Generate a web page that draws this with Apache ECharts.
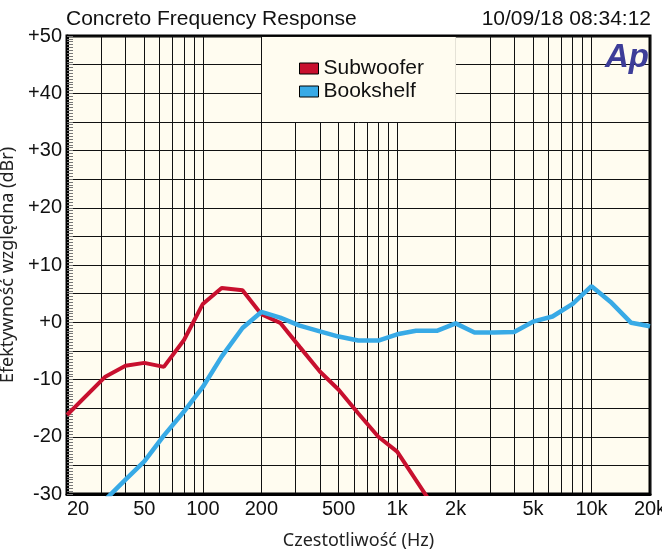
<!DOCTYPE html>
<html>
<head>
<meta charset="utf-8">
<script src="https://cdn.jsdelivr.net/npm/echarts@6/dist/echarts.min.js"></script>
<style>html,body{margin:0;padding:0;background:#fff}#c{width:662px;height:549px}</style>
</head>
<body>
<div id="c"></div>
<script>
// ---- data ----
const subFreq = [20, 31.5, 40, 50, 63, 80, 100, 125, 160, 200, 250, 315, 400, 500, 630, 800, 1000, 1600];
const subVal  = [-16.2, -9.5, -7.6, -7.1, -7.8, -3.1, 3.2, 6.0, 5.6, 1.4, -0.1, -4.3, -8.6, -11.8, -15.9, -20.0, -22.6, -33.1];

const bookFreq = [31.5, 40, 50, 63, 80, 100, 125, 160, 200, 250, 315, 400, 500, 630, 800, 1000, 1250, 1600, 2000, 2500, 3150, 4000, 5000, 6300, 8000, 10000, 12500, 16000, 20000];
const bookVal  = [-31.0, -27.5, -24.3, -19.8, -15.6, -11.3, -6.0, -1.0, 1.8, 0.8, -0.6, -1.6, -2.5, -3.2, -3.2, -2.1, -1.5, -1.5, -0.2, -1.8, -1.8, -1.7, 0.1, 1.0, 3.2, 6.3, 3.6, -0.1, -0.7];

const seriesNames = ['Subwoofer', 'Bookshelf'];
const xLabelValues = [20, 50, 100, 200, 500, 1000, 2000, 5000, 10000, 20000];
const xGridValues = [20, 30, 40, 50, 60, 70, 80, 90, 100, 200, 300, 400, 500, 600, 700, 800, 900,
                     1000, 2000, 3000, 4000, 5000, 6000, 7000, 8000, 9000, 10000, 20000];
const yMin = -30, yMax = 50, yStep = 5;
const titleText = 'Concreto Frequency Response';
const dateText = '10/09/18 08:34:12';
const xName = 'Czestotliwość (Hz)';
const yName = 'Efektywność względna (dBr)';

// ---- chart ----
const chart = echarts.init(document.getElementById('c'), null, {renderer: 'canvas'});
const FF = 'Liberation Sans, Arial, sans-serif';
const option = {
  animation: false,
  backgroundColor: '#ffffff',
  textStyle: {fontFamily: FF},
  title: [
    {text: titleText, left: 66, top: 9, padding: 0,
     textStyle: {fontSize: 21, fontWeight: 'normal', color: '#111', fontFamily: FF}},
    {text: dateText, right: 11, top: 9, padding: 0,
     textStyle: {fontSize: 21, fontWeight: 'normal', color: '#111', fontFamily: FF}}
  ],
  grid: {left: 67, right: 12, top: 36, bottom: 55, containLabel: false, outerBoundsMode: 'none',
         show: true, backgroundColor: '#fffcf0', borderColor: '#000', borderWidth: 3},
  legend: {
    data: seriesNames, orient: 'vertical', left: 262, top: 37,
    padding: [21, 32, 20, 37], backgroundColor: '#fffcf0',
    icon: 'rect', itemWidth: 19, itemHeight: 11, itemGap: 2,
    itemStyle: {borderColor: '#000', borderWidth: 1},
    textStyle: {fontSize: 21, color: '#111', fontFamily: FF, lineHeight: 20}
  },
  xAxis: {
    type: 'log', logBase: 10, min: 20, max: 20000,
    name: xName, nameLocation: 'middle', nameGap: 38,
    nameTextStyle: {fontFamily: 'Noto Sans', fontSize: 18, color: '#222'},
    axisLine: {show: true, onZero: false, lineStyle: {color: '#000', width: 3}},
    axisTick: {show: false, customValues: xGridValues},
    axisLabel: {customValues: xLabelValues, fontSize: 20, color: '#111', margin: 5,
                alignMinLabel: 'left', showMinLabel: true, showMaxLabel: true,
                formatter: v => v >= 1000 ? (v / 1000) + 'k' : String(v)},
    splitLine: {show: true, lineStyle: {color: '#111', width: 1}}
  },
  yAxis: {
    type: 'value', min: yMin, max: yMax, interval: yStep,
    name: yName, nameLocation: 'middle', nameGap: 38,
    nameTextStyle: {fontFamily: 'Noto Sans', fontSize: 18, color: '#222'},
    axisLine: {show: true, onZero: false, lineStyle: {color: '#000', width: 3}},
    axisTick: {show: true, inside: true, length: 6, lineStyle: {color: '#777', width: 1}},
    minorTick: {show: true, splitNumber: 10, length: 6, lineStyle: {color: '#777', width: 1}},
    axisLabel: {fontSize: 20, color: '#111', margin: 5,
                formatter: v => (v % 10 === 0) ? (v >= 0 ? '+' + v : String(v)) : ''},
    splitLine: {show: true, lineStyle: {color: '#111', width: 1}}
  },
  graphic: [
    {type: 'text', left: 605, top: 41, z: 10,
     style: {text: 'Ap', font: 'italic bold 33px Liberation Sans', fill: '#3d3d98'}}
  ],
  series: [
    {name: seriesNames[0], type: 'line', symbol: 'none', clip: true,
     data: subFreq.map((f, i) => [f, subVal[i]]),
     lineStyle: {color: '#c8102e', width: 4}, itemStyle: {color: '#c8102e'}},
    {name: seriesNames[1], type: 'line', symbol: 'none', clip: true,
     data: bookFreq.map((f, i) => [f, bookVal[i]]),
     lineStyle: {color: '#38aae6', width: 4.5}, itemStyle: {color: '#38aae6'}}
  ]
};
chart.setOption(option);
</script>
</body>
</html>
